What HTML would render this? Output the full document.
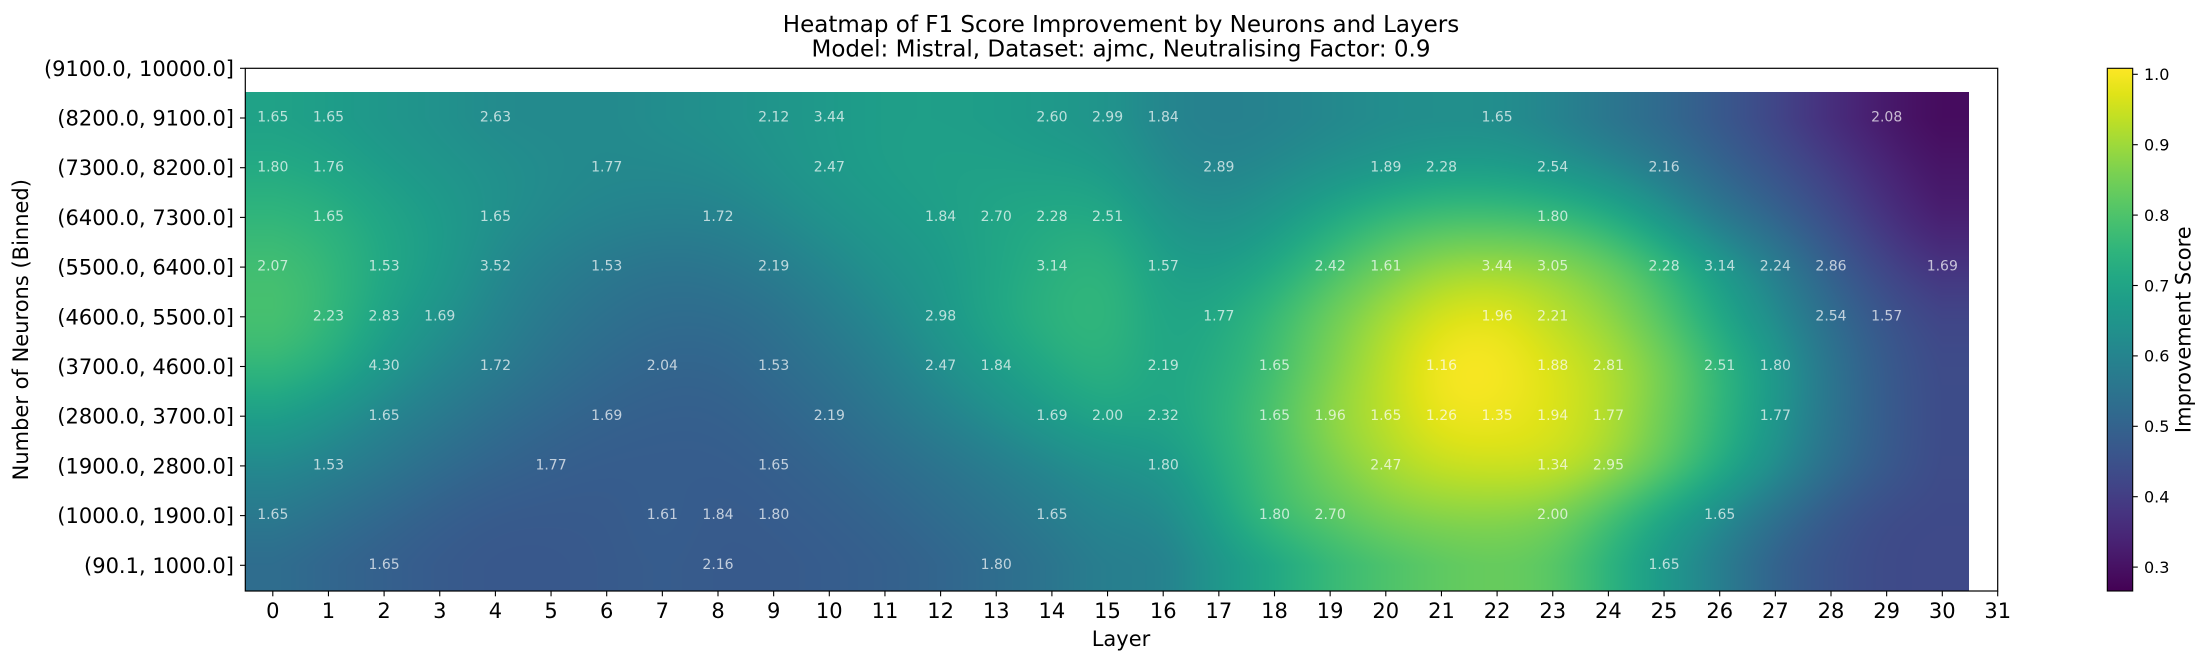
<!DOCTYPE html>
<html>
<head>
<meta charset="utf-8">
<style>
html,body{margin:0;padding:0;background:#fff;}
body{width:2206px;height:658px;overflow:hidden;position:relative;}
#hm{position:absolute;left:245px;top:92px;width:1724px;height:499px;background:#3a8a8c;}
svg{position:absolute;left:0;top:0;}
text{font-family:"DejaVu Sans","Liberation Sans",sans-serif;}
.an{font-size:14px;fill:#fff;fill-opacity:0.7;text-anchor:middle;}
.xt{font-size:21px;fill:#000;text-anchor:middle;}
.yt{font-size:21px;fill:#000;text-anchor:end;}
.ct{font-size:16px;fill:#000;}
</style>
</head>
<body>
<canvas id="hm" width="1724" height="499"></canvas>
<svg width="2206" height="658" viewBox="0 0 2206 658">
<defs>
<linearGradient id="vir" x1="0" y1="1" x2="0" y2="0">
<stop offset="0" stop-color="#440154"/><stop offset="0.05" stop-color="#471365"/><stop offset="0.1" stop-color="#482475"/><stop offset="0.15" stop-color="#463480"/><stop offset="0.2" stop-color="#414487"/><stop offset="0.25" stop-color="#3b528b"/><stop offset="0.3" stop-color="#355f8d"/><stop offset="0.35" stop-color="#2f6c8e"/><stop offset="0.4" stop-color="#2a788e"/><stop offset="0.45" stop-color="#25848e"/><stop offset="0.5" stop-color="#21918c"/><stop offset="0.55" stop-color="#1e9c89"/><stop offset="0.6" stop-color="#22a884"/><stop offset="0.65" stop-color="#2fb47c"/><stop offset="0.7" stop-color="#44bf70"/><stop offset="0.75" stop-color="#5ec962"/><stop offset="0.8" stop-color="#7ad151"/><stop offset="0.85" stop-color="#9bd93c"/><stop offset="0.9" stop-color="#bddf26"/><stop offset="0.95" stop-color="#dfe318"/><stop offset="1" stop-color="#fde725"/>
</linearGradient>
</defs>

<!-- Title -->
<text x="1121" y="32" style="font-size:23px;text-anchor:middle;fill:#000">Heatmap of F1 Score Improvement by Neurons and Layers</text>
<text x="1121" y="56.5" style="font-size:23px;text-anchor:middle;fill:#000">Model: Mistral, Dataset: ajmc, Neutralising Factor: 0.9</text>

<!-- Annotations -->
<g class="an">
<text x="662.35" y="71.9">1.61</text><text x="718" y="71.9">1.84</text><text x="1497.1" y="71.9">1.65</text>
<text x="272.8" y="121.6">1.65</text><text x="328.45" y="121.6">1.65</text><text x="495.4" y="121.6">2.63</text><text x="773.65" y="121.6">2.12</text><text x="829.3" y="121.6">3.44</text><text x="1051.9" y="121.6">2.60</text><text x="1107.55" y="121.6">2.99</text><text x="1163.2" y="121.6">1.84</text><text x="1497.1" y="121.6">1.65</text><text x="1886.65" y="121.6">2.08</text>
<text x="272.8" y="171.3">1.80</text><text x="328.45" y="171.3">1.76</text><text x="606.7" y="171.3">1.77</text><text x="829.3" y="171.3">2.47</text><text x="1218.85" y="171.3">2.89</text><text x="1385.8" y="171.3">1.89</text><text x="1441.45" y="171.3">2.28</text><text x="1552.75" y="171.3">2.54</text><text x="1664.05" y="171.3">2.16</text>
<text x="328.45" y="221">1.65</text><text x="495.4" y="221">1.65</text><text x="718" y="221">1.72</text><text x="940.6" y="221">1.84</text><text x="996.25" y="221">2.70</text><text x="1051.9" y="221">2.28</text><text x="1107.55" y="221">2.51</text><text x="1552.75" y="221">1.80</text>
<text x="272.8" y="270.7">2.07</text><text x="384.1" y="270.7">1.53</text><text x="495.4" y="270.7">3.52</text><text x="606.7" y="270.7">1.53</text><text x="773.65" y="270.7">2.19</text><text x="1051.9" y="270.7">3.14</text><text x="1163.2" y="270.7">1.57</text><text x="1330.15" y="270.7">2.42</text><text x="1385.8" y="270.7">1.61</text><text x="1497.1" y="270.7">3.44</text><text x="1552.75" y="270.7">3.05</text><text x="1664.05" y="270.7">2.28</text><text x="1719.7" y="270.7">3.14</text><text x="1775.35" y="270.7">2.24</text><text x="1831" y="270.7">2.86</text><text x="1942.3" y="270.7">1.69</text>
<text x="328.45" y="320.4">2.23</text><text x="384.1" y="320.4">2.83</text><text x="439.75" y="320.4">1.69</text><text x="940.6" y="320.4">2.98</text><text x="1218.85" y="320.4">1.77</text><text x="1497.1" y="320.4">1.96</text><text x="1552.75" y="320.4">2.21</text><text x="1831" y="320.4">2.54</text><text x="1886.65" y="320.4">1.57</text>
<text x="384.1" y="370.1">4.30</text><text x="495.4" y="370.1">1.72</text><text x="662.35" y="370.1">2.04</text><text x="773.65" y="370.1">1.53</text><text x="940.6" y="370.1">2.47</text><text x="996.25" y="370.1">1.84</text><text x="1163.2" y="370.1">2.19</text><text x="1274.5" y="370.1">1.65</text><text x="1441.45" y="370.1">1.16</text><text x="1552.75" y="370.1">1.88</text><text x="1608.4" y="370.1">2.81</text><text x="1719.7" y="370.1">2.51</text><text x="1775.35" y="370.1">1.80</text>
<text x="384.1" y="419.8">1.65</text><text x="606.7" y="419.8">1.69</text><text x="829.3" y="419.8">2.19</text><text x="1051.9" y="419.8">1.69</text><text x="1107.55" y="419.8">2.00</text><text x="1163.2" y="419.8">2.32</text><text x="1274.5" y="419.8">1.65</text><text x="1330.15" y="419.8">1.96</text><text x="1385.8" y="419.8">1.65</text><text x="1441.45" y="419.8">1.26</text><text x="1497.1" y="419.8">1.35</text><text x="1552.75" y="419.8">1.94</text><text x="1608.4" y="419.8">1.77</text><text x="1775.35" y="419.8">1.77</text>
<text x="328.45" y="469.5">1.53</text><text x="551.05" y="469.5">1.77</text><text x="773.65" y="469.5">1.65</text><text x="1163.2" y="469.5">1.80</text><text x="1385.8" y="469.5">2.47</text><text x="1552.75" y="469.5">1.34</text><text x="1608.4" y="469.5">2.95</text>
<text x="272.8" y="519.2">1.65</text><text x="662.35" y="519.2">1.61</text><text x="718" y="519.2">1.84</text><text x="773.65" y="519.2">1.80</text><text x="1051.9" y="519.2">1.65</text><text x="1274.5" y="519.2">1.80</text><text x="1330.15" y="519.2">2.70</text><text x="1552.75" y="519.2">2.00</text><text x="1719.7" y="519.2">1.65</text>
<text x="384.1" y="568.9">1.65</text><text x="718" y="568.9">2.16</text><text x="996.25" y="568.9">1.80</text><text x="1664.05" y="568.9">1.65</text>
</g>

<!-- Axes frame -->
<rect x="245.3" y="68.3" width="1752.4" height="522.7" fill="none" stroke="#000" stroke-width="1.2"/>

<!-- X ticks -->
<g stroke="#000" stroke-width="1.1">
<line x1="272.8" y1="591" x2="272.8" y2="596.3"/><line x1="328.45" y1="591" x2="328.45" y2="596.3"/><line x1="384.1" y1="591" x2="384.1" y2="596.3"/><line x1="439.75" y1="591" x2="439.75" y2="596.3"/><line x1="495.4" y1="591" x2="495.4" y2="596.3"/><line x1="551.05" y1="591" x2="551.05" y2="596.3"/><line x1="606.7" y1="591" x2="606.7" y2="596.3"/><line x1="662.35" y1="591" x2="662.35" y2="596.3"/><line x1="718" y1="591" x2="718" y2="596.3"/><line x1="773.65" y1="591" x2="773.65" y2="596.3"/><line x1="829.3" y1="591" x2="829.3" y2="596.3"/><line x1="884.95" y1="591" x2="884.95" y2="596.3"/><line x1="940.6" y1="591" x2="940.6" y2="596.3"/><line x1="996.25" y1="591" x2="996.25" y2="596.3"/><line x1="1051.9" y1="591" x2="1051.9" y2="596.3"/><line x1="1107.55" y1="591" x2="1107.55" y2="596.3"/><line x1="1163.2" y1="591" x2="1163.2" y2="596.3"/><line x1="1218.85" y1="591" x2="1218.85" y2="596.3"/><line x1="1274.5" y1="591" x2="1274.5" y2="596.3"/><line x1="1330.15" y1="591" x2="1330.15" y2="596.3"/><line x1="1385.8" y1="591" x2="1385.8" y2="596.3"/><line x1="1441.45" y1="591" x2="1441.45" y2="596.3"/><line x1="1497.1" y1="591" x2="1497.1" y2="596.3"/><line x1="1552.75" y1="591" x2="1552.75" y2="596.3"/><line x1="1608.4" y1="591" x2="1608.4" y2="596.3"/><line x1="1664.05" y1="591" x2="1664.05" y2="596.3"/><line x1="1719.7" y1="591" x2="1719.7" y2="596.3"/><line x1="1775.35" y1="591" x2="1775.35" y2="596.3"/><line x1="1831" y1="591" x2="1831" y2="596.3"/><line x1="1886.65" y1="591" x2="1886.65" y2="596.3"/><line x1="1942.3" y1="591" x2="1942.3" y2="596.3"/><line x1="1997.7" y1="591" x2="1997.7" y2="596.3"/>
</g>
<g class="xt">
<text x="272.8" y="618">0</text><text x="328.45" y="618">1</text><text x="384.1" y="618">2</text><text x="439.75" y="618">3</text><text x="495.4" y="618">4</text><text x="551.05" y="618">5</text><text x="606.7" y="618">6</text><text x="662.35" y="618">7</text><text x="718" y="618">8</text><text x="773.65" y="618">9</text><text x="829.3" y="618">10</text><text x="884.95" y="618">11</text><text x="940.6" y="618">12</text><text x="996.25" y="618">13</text><text x="1051.9" y="618">14</text><text x="1107.55" y="618">15</text><text x="1163.2" y="618">16</text><text x="1218.85" y="618">17</text><text x="1274.5" y="618">18</text><text x="1330.15" y="618">19</text><text x="1385.8" y="618">20</text><text x="1441.45" y="618">21</text><text x="1497.1" y="618">22</text><text x="1552.75" y="618">23</text><text x="1608.4" y="618">24</text><text x="1664.05" y="618">25</text><text x="1719.7" y="618">26</text><text x="1775.35" y="618">27</text><text x="1831" y="618">28</text><text x="1886.65" y="618">29</text><text x="1942.3" y="618">30</text><text x="1997.7" y="618">31</text>
</g>

<!-- Y ticks -->
<g stroke="#000" stroke-width="1.1">
<line x1="240" y1="68.3" x2="245.3" y2="68.3"/><line x1="240" y1="118" x2="245.3" y2="118"/><line x1="240" y1="167.7" x2="245.3" y2="167.7"/><line x1="240" y1="217.4" x2="245.3" y2="217.4"/><line x1="240" y1="267.1" x2="245.3" y2="267.1"/><line x1="240" y1="316.8" x2="245.3" y2="316.8"/><line x1="240" y1="366.5" x2="245.3" y2="366.5"/><line x1="240" y1="416.2" x2="245.3" y2="416.2"/><line x1="240" y1="465.9" x2="245.3" y2="465.9"/><line x1="240" y1="515.6" x2="245.3" y2="515.6"/><line x1="240" y1="565.3" x2="245.3" y2="565.3"/>
</g>
<g class="yt">
<text x="234" y="75.8">(9100.0, 10000.0]</text>
<text x="234" y="125.5">(8200.0, 9100.0]</text>
<text x="234" y="175.2">(7300.0, 8200.0]</text>
<text x="234" y="224.9">(6400.0, 7300.0]</text>
<text x="234" y="274.6">(5500.0, 6400.0]</text>
<text x="234" y="324.3">(4600.0, 5500.0]</text>
<text x="234" y="374">(3700.0, 4600.0]</text>
<text x="234" y="423.7">(2800.0, 3700.0]</text>
<text x="234" y="473.4">(1900.0, 2800.0]</text>
<text x="234" y="523.1">(1000.0, 1900.0]</text>
<text x="234" y="572.8">(90.1, 1000.0]</text>
</g>

<!-- Axis labels -->
<text x="1121" y="646" style="font-size:21px;text-anchor:middle;fill:#000">Layer</text>
<text transform="translate(28,329.7) rotate(-90)" x="0" y="0" style="font-size:21px;text-anchor:middle;fill:#000">Number of Neurons (Binned)</text>

<!-- Colorbar -->
<rect x="2107.3" y="68.3" width="25.4" height="522.7" fill="url(#vir)" stroke="#000" stroke-width="1.1"/>
<g stroke="#000" stroke-width="1.1">
<line x1="2132.7" y1="567.1" x2="2137.8" y2="567.1"/><line x1="2132.7" y1="496.7" x2="2137.8" y2="496.7"/><line x1="2132.7" y1="426.3" x2="2137.8" y2="426.3"/><line x1="2132.7" y1="355.9" x2="2137.8" y2="355.9"/><line x1="2132.7" y1="285.5" x2="2137.8" y2="285.5"/><line x1="2132.7" y1="215.1" x2="2137.8" y2="215.1"/><line x1="2132.7" y1="144.7" x2="2137.8" y2="144.7"/><line x1="2132.7" y1="74.3" x2="2137.8" y2="74.3"/>
</g>
<g class="ct">
<text x="2144" y="572.9">0.3</text><text x="2144" y="502.5">0.4</text><text x="2144" y="432.1">0.5</text><text x="2144" y="361.7">0.6</text><text x="2144" y="291.3">0.7</text><text x="2144" y="220.9">0.8</text><text x="2144" y="150.5">0.9</text><text x="2144" y="80.1">1.0</text>
</g>
<text transform="translate(2190.5,329.7) rotate(-90)" x="0" y="0" style="font-size:21px;text-anchor:middle;fill:#000">Improvement Score</text>
</svg>

<script>
(function(){
var G=[
[.57,.55,.52,.50,.47,.47,.47,.49,.50,.52,.54,.56,.56,.55,.53,.51,.45,.43,.44,.46,.48,.48,.48,.44,.38,.33,.27,.20,.12,.06,.02],
[.61,.59,.55,.52,.50,.48,.47,.47,.48,.51,.54,.56,.57,.57,.56,.55,.47,.45,.47,.50,.52,.55,.55,.52,.47,.40,.32,.25,.18,.10,.05],
[.66,.64,.59,.55,.50,.47,.45,.44,.44,.47,.51,.54,.56,.59,.61,.61,.52,.49,.53,.60,.67,.70,.70,.68,.63,.52,.40,.32,.23,.14,.07],
[.70,.67,.60,.55,.47,.43,.40,.38,.39,.42,.46,.51,.54,.59,.63,.66,.56,.55,.60,.70,.78,.85,.86,.84,.78,.68,.55,.43,.30,.20,.14],
[.72,.67,.58,.51,.45,.40,.37,.35,.35,.37,.42,.47,.53,.60,.65,.67,.58,.60,.68,.78,.87,.95,.97,.90,.84,.73,.60,.48,.35,.26,.20],
[.67,.63,.53,.46,.42,.37,.34,.32,.32,.35,.38,.43,.49,.55,.61,.65,.58,.62,.69,.80,.90,1.0,1.0,.95,.89,.80,.66,.55,.38,.28,.22],
[.57,.51,.45,.41,.36,.33,.31,.30,.30,.32,.35,.39,.44,.49,.55,.60,.58,.64,.72,.84,.90,.98,.98,.95,.89,.78,.66,.53,.38,.28,.22],
[.47,.44,.40,.35,.32,.30,.29,.29,.29,.30,.32,.35,.38,.42,.46,.50,.52,.62,.70,.80,.87,.92,.93,.93,.87,.76,.63,.50,.36,.28,.22],
[.41,.37,.33,.30,.28,.28,.28,.30,.28,.29,.30,.32,.35,.38,.42,.46,.46,.58,.70,.74,.80,.82,.82,.80,.70,.58,.48,.36,.27,.22,.22],
[.35,.32,.30,.28,.27,.27,.28,.29,.28,.28,.29,.30,.32,.35,.38,.43,.42,.52,.58,.66,.70,.74,.76,.74,.64,.53,.42,.30,.25,.22,.22]
];
var V=[[68,1,84],[71,19,101],[72,36,117],[70,52,128],[65,68,135],[59,82,139],[53,95,141],[47,108,142],[42,120,142],[37,132,142],[33,145,140],[30,156,137],[34,168,132],[47,180,124],[68,191,112],[94,201,98],[122,209,81],[155,217,60],[189,223,38],[223,227,24],[253,231,37]];
var cv=document.getElementById('hm');
if(!cv||!cv.getContext)return;
var W=cv.width,H=cv.height,ctx=cv.getContext('2d');
var img=ctx.createImageData(W,H),d=img.data;
function wts(u,n){
  if(u<0)u=0; if(u>n-1)u=n-1;
  var i=Math.floor(u),f=u-i;
  var w=[(1-f)*(1-f)*(1-f)/6,(3*f*f*f-6*f*f+4)/6,(-3*f*f*f+3*f*f+3*f+1)/6,f*f*f/6];
  var idx=[];
  for(var k=-1;k<=2;k++){var j=i+k;if(j<0)j=0;if(j>n-1)j=n-1;idx.push(j);}
  return [idx,w];
}
var cx=[],cy=[],x,y,k,c;
for(x=0;x<W;x++)cx.push(wts((245.3+x+0.5-272.8)/55.65,31));
for(y=0;y<H;y++)cy.push(wts((92+y+0.5-118.0)/49.7,10));
for(y=0;y<H;y++){
  var ry=cy[y],R=new Array(31);
  for(c=0;c<31;c++){var s=0;for(k=0;k<4;k++)s+=ry[1][k]*G[ry[0][k]][c];R[c]=s;}
  for(x=0;x<W;x++){
    var rx=cx[x],t=0;
    for(k=0;k<4;k++)t+=rx[1][k]*R[rx[0][k]];
    if(t<0)t=0;if(t>1)t=1;
    var p=t*20,i=Math.floor(p);if(i>19)i=19;var f=p-i;
    var a=V[i],b=V[i+1],o=(y*W+x)*4;
    d[o]=a[0]+(b[0]-a[0])*f;d[o+1]=a[1]+(b[1]-a[1])*f;d[o+2]=a[2]+(b[2]-a[2])*f;d[o+3]=255;
  }
}
ctx.putImageData(img,0,0);
})();
</script>
</body>
</html>
